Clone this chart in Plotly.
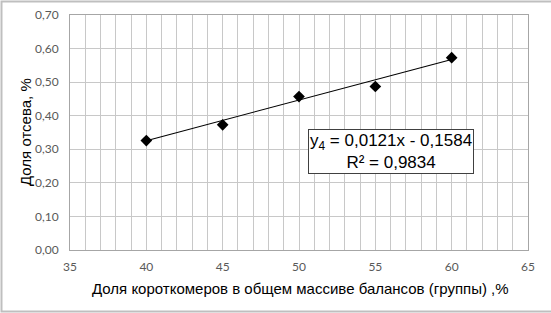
import plotly.graph_objects as go
import numpy as np

x_vals = [40, 45, 50, 55, 60]
y_vals = [0.326, 0.373, 0.457, 0.487, 0.573]
slope = 0.0121
intercept = -0.1584
r2 = 0.9834
x_ticks = [35, 40, 45, 50, 55, 60, 65]
y_ticks = [0.0, 0.1, 0.2, 0.3, 0.4, 0.5, 0.6, 0.7]
x_title = "Доля короткомеров в общем массиве балансов (группы) ,%"
y_title = "Доля отсева, %"

W, H = 551, 313
L, R, T, B = 70, 23, 15, 63
pw, ph = W - L - R, H - T - B

def px(x):
    return (x - L) / pw

def py(y):
    return 1 - (y - T) / ph

trend_x = np.array([min(x_vals), max(x_vals)])
trend_y = slope * trend_x + intercept

fig = go.Figure()
fig.add_trace(go.Scatter(x=trend_x, y=trend_y, mode="lines",
                         line=dict(color="black", width=1.1), hoverinfo="skip", showlegend=False))
fig.add_trace(go.Scatter(x=x_vals, y=y_vals, mode="markers",
                         marker=dict(symbol="diamond", size=9, color="black"), showlegend=False))

grid_col = "#c8c8c8"
fig.update_xaxes(range=[35, 65], tickvals=x_ticks, showgrid=True, gridcolor=grid_col, gridwidth=1,
                 minor=dict(dtick=1, showgrid=True, gridcolor=grid_col, gridwidth=1),
                 showline=True, linecolor="#a6a6a6", mirror=True, zeroline=False, automargin=False,
                 ticks="", ticklabelstandoff=6, tickfont=dict(family="Lato", size=12, color="#595959"))
fig.update_yaxes(range=[0, 0.7], tickvals=y_ticks, tickformat=".2f", showgrid=True, gridcolor=grid_col,
                 showline=True, linecolor="#a6a6a6", mirror=True, zeroline=False, automargin=False,
                 ticks="", ticklabelstandoff=8, tickfont=dict(family="Lato", size=12, color="#595959"))

fig.add_annotation(xref="paper", yref="paper", x=px(300), y=py(288), xanchor="center", yanchor="middle",
                   showarrow=False, text=x_title,
                   font=dict(family="Liberation Sans", size=15, color="black"))
fig.add_annotation(xref="paper", yref="paper", x=px(25), y=py(132), xanchor="center", yanchor="middle",
                   showarrow=False, text=y_title, textangle=-90,
                   font=dict(family="Liberation Sans", size=15, color="black"))

eq = f"y<sub>4</sub> = {slope:.4f}x - {abs(intercept):.4f}".replace(".", ",")
r2t = f"R² = {r2:.4f}".replace(".", ",")
fig.add_annotation(xref="paper", yref="paper", x=px(391), y=py(151), xanchor="center", yanchor="middle",
                   showarrow=False, text=eq + "<br>" + r2t, align="center",
                   font=dict(family="Liberation Sans", size=17, color="black"),
                   bordercolor="#404040", borderwidth=1, bgcolor="white", borderpad=1)

fig.add_shape(type="rect", xref="paper", yref="paper", x0=px(1.5), x1=px(552), y0=py(1.5), y1=py(311.5),
              line=dict(color="#bfbfbf", width=2), layer="below")

fig.update_layout(width=W, height=H, margin=dict(l=L, r=R, t=T, b=B, autoexpand=False),
                  plot_bgcolor="white", paper_bgcolor="white", separators=", ",
                  showlegend=False)
fig.write_html("out.html", config={"displayModeBar": False},
               post_script="document.body.style.margin='0px';document.body.style.overflow='hidden';")
